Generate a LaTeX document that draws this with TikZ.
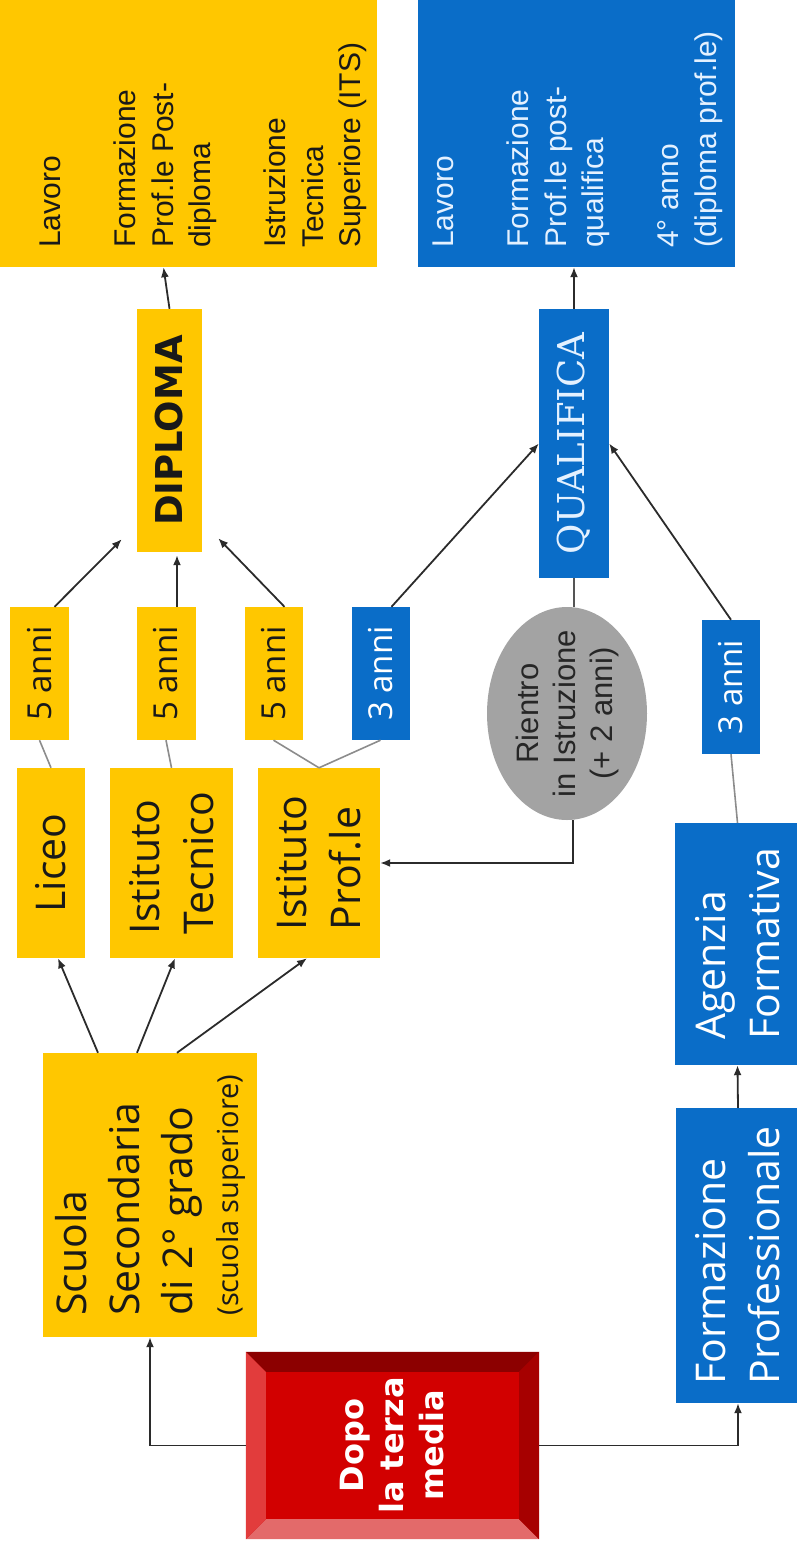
\documentclass[tikz,border=0pt]{standalone}
\usepackage{fontspec}
\setmainfont{Open Sans}
\newfontfamily\dopofont{DejaVu Sans}
\newfontfamily\listfont{Liberation Sans}
\newfontfamily\qualfont{DejaVu Serif}
\usetikzlibrary{arrows.meta, shapes.geometric, calc}

\definecolor{yel}{HTML}{FFC700}
\definecolor{blu}{HTML}{0A6DC8}
\definecolor{bluetext}{HTML}{E4F1FF}
\definecolor{rgray}{HTML}{A3A3A3}
\definecolor{inkline}{HTML}{2B2B2B}
\definecolor{linkgray}{HTML}{8C8C8C}
\definecolor{redface}{HTML}{D20000}
\definecolor{redtop}{HTML}{8C0000}
\definecolor{redleft}{HTML}{E23C3C}
\definecolor{redbot}{HTML}{E36A6A}
\definecolor{redright}{HTML}{A60000}

\tikzset{
  flowbox/.style={rotate=90, inner sep=0pt, align=left},
  ybox/.style={flowbox, fill=yel, text=black!90},
  bbox/.style={flowbox, fill=blu, text=white},
  bigtext/.style={font=\fontsize{41}{54}\selectfont},
  yeartext/.style={font=\fontsize{33}{40}\selectfont},
  listtext/.style={rotate=90, inner sep=0pt, align=left, font=\listfont\fontsize{30}{37.5}\selectfont},
  arr/.style={draw=inkline, line width=1.8pt, -{Latex[length=10pt,width=8pt]}},
  link/.style={draw=linkgray, line width=1.6pt},
}

\begin{document}
\begin{tikzpicture}[x=1pt, y=-1pt]
\useasboundingbox (0,0) rectangle (797,1551);
\clip (0,0) rectangle (797,1551);

% uscite
\node[ybox, minimum width=287pt, minimum height=397pt] (outY) at (178.5,123.5) {};
\node[listtext, text=black!90, anchor=north west] (outYtxt) at (40,248)
  {Lavoro\\[37.5pt]Formazione\\Prof.le Post-\\diploma\\[37.5pt]Istruzione\\Tecnica\\Superiore (ITS)};
\node[bbox, minimum width=287pt, minimum height=317pt] (outB) at (576.5,123.5) {};
\node[listtext, text=bluetext, anchor=north west] (outBtxt) at (433,248)
  {Lavoro\\[37.5pt]Formazione\\Prof.le post-\\qualifica\\[37.5pt]4° anno\\(diploma prof.le)};

% titoli
\node[ybox, align=center, minimum width=243pt, minimum height=65pt,
  font=\dopofont\bfseries\fontsize{37}{44}\selectfont] (dip) at (169.5,430.5) {DIPLOMA};
\node[bbox, align=center, text=bluetext, minimum width=269pt, minimum height=70pt,
  font=\qualfont\fontsize{37}{44}\selectfont] (qual) at (574,443.5) {QUALIFICA};

% anni
\node[ybox, yeartext, minimum width=133pt, minimum height=59pt] (y1) at (39.5,673.5) {5 anni};
\node[ybox, yeartext, minimum width=133pt, minimum height=59pt] (y2) at (166,673.5) {5 anni};
\node[ybox, yeartext, minimum width=133pt, minimum height=58pt] (y3) at (273.5,673.5) {5 anni};
\node[bbox, yeartext, minimum width=133pt, minimum height=58pt] (b1) at (380.5,673.5) {3 anni};
\node[bbox, yeartext, minimum width=134pt, minimum height=58pt] (b2) at (731,687) {3 anni};

% scuole
\node[ybox, bigtext, minimum width=190pt, minimum height=68pt] (liceo) at (51,863) {Liceo};
\node[ybox, bigtext, minimum width=190pt, minimum height=123pt] (tecn) at (171.5,863) {Istituto\\Tecnico};
\node[ybox, bigtext, minimum width=190pt, minimum height=122pt] (prof) at (319,863) {Istituto\\Prof.le};
\node[ybox, font=\fontsize{41}{53}\selectfont, minimum width=284pt, minimum height=214pt] (scu) at (150,1195)
  {Scuola\\Secondaria\\di 2° grado\\[-7pt]{\fontsize{29}{35}\selectfont(scuola superiore)}};

% rientro
\node[ellipse, rotate=90, fill=rgray, text=black!85, align=center, inner xsep=-10pt, inner ysep=0pt,
  minimum width=213pt, minimum height=160pt, font=\listfont\fontsize{31}{37}\selectfont] (rie) at (567,713.5)
  {Rientro\\in Istruzione\\(+ 2 anni)};

% formazione
\node[bbox, bigtext, minimum width=242pt, minimum height=125pt] (agen) at (737.5,944) {Agenzia\\Formativa};
\node[bbox, bigtext, minimum width=295pt, minimum height=124pt] (fprof) at (738,1255.5) {Formazione\\Professionale};

% dopo la terza media
\node[rotate=90, fill=redface, text=white, align=center, inner sep=0pt, minimum width=187pt, minimum height=293pt,
  font=\dopofont\bfseries\fontsize{32}{40}\selectfont] (dopo) at (392.5,1445.5) {Dopo\\la terza\\media};
\fill[redtop] (dopo.north east) -- (dopo.south east) -- ++(-20,20) -- ($(dopo.north east)+(20,20)$) -- cycle;
\fill[redbot] (dopo.north west) -- (dopo.south west) -- ++(-20,-20) -- ($(dopo.north west)+(20,-20)$) -- cycle;
\fill[redleft] (dopo.north east) -- (dopo.north west) -- ++(20,-20) -- ($(dopo.north east)+(20,20)$) -- cycle;
\fill[redright] (dopo.south east) -- (dopo.south west) -- ++(-20,-20) -- ($(dopo.south east)+(-20,20)$) -- cycle;

% collegamenti
\draw[link] (y1.west) -- (liceo.east);
\draw[link] (y2.west) -- (tecn.east);
\draw[link] (y3.west) -- (prof.east);
\draw[link] (b1.west) -- (prof.east);
\draw[link] (b2.west) -- (agen.east);
\draw[link, draw=inkline!80] (qual.west) -- (qual.west |- rie.east);

% frecce
\draw[arr] ([xshift=-52pt]scu.east) -- ([xshift=7pt]liceo.west);
\draw[arr] ([xshift=-13pt]scu.east) -- ([xshift=3.5pt]tecn.west);
\draw[arr] ([xshift=27pt]scu.east) -- ([xshift=-12pt]prof.west);
\draw[arr] ([xshift=15pt]y1.east) -- ($(dip.north west)+(-15,-13)$);
\draw[arr] ([xshift=11pt]y2.east) -- ([xshift=7.5pt, yshift=-3pt]dip.west);
\draw[arr] ([xshift=11pt]y3.east) -- ($(dip.south west)+(16,-14)$);
\draw[arr] ([xshift=11pt]b1.east) -- (qual.north);
\draw[arr] (b2.east) -- (qual.south);
\draw[arr] (qual.east) -- (qual.east |- outB.west);
\draw[arr] (dip.east) -- ($(dip.east |- outY.west)+(-6,0)$);
\draw[arr] ([xshift=6pt]rie.west) |- (prof.south);
\draw[arr] (dopo.north) -| (scu.west);
\draw[arr] (dopo.south) -| (fprof.west);
\draw[arr] (fprof.east) -- (agen.west);
\end{tikzpicture}
\end{document}
